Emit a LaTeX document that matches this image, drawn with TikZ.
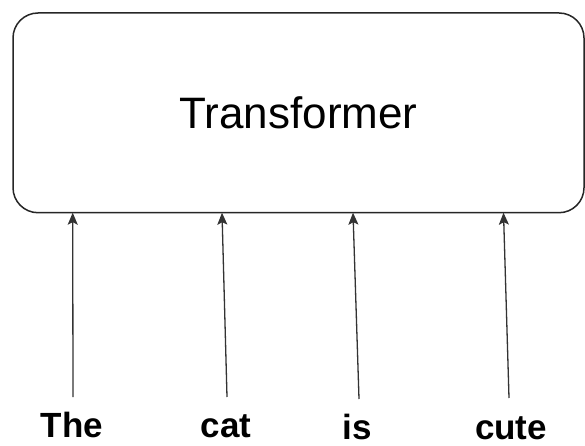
\documentclass[tikz,border=0pt]{standalone}
\usepackage{fontspec}
\setmainfont{Liberation Sans}
\usetikzlibrary{arrows.meta}
\begin{document}
\begin{tikzpicture}[x=1pt,y=1pt,
  boxstyle/.style={draw=black!85, line width=1.5pt, rounded corners=25pt, minimum width=571pt, minimum height=199.7pt, inner sep=0pt, font=\fontsize{44}{50}\selectfont},
  wordstyle/.style={font=\fontsize{35}{40}\selectfont\bfseries, anchor=base, inner sep=0pt},
  arrowstyle/.style={draw=black!80, line width=1.3pt, -{Stealth[length=12pt,width=10pt,inset=2.5pt]}}]
\useasboundingbox (0,0) rectangle (585,445);
\node[boxstyle] (box) at (298.5,332.15) {Transformer};
\node[wordstyle] (the) at (72,8) {The};
\node[wordstyle] (cat) at (226,8) {cat};
\node[wordstyle] (is) at (357.5,6) {is};
\node[wordstyle] (cute) at (511,6) {cute};
\coordinate (t1) at (72.7,232.3);
\coordinate (t2) at (222,232.3);
\coordinate (t3) at (353,232.3);
\coordinate (t4) at (503.5,232.3);
\coordinate (s1) at (73,48);
\coordinate (s2) at (227,48);
\coordinate (s3) at (359,46);
\coordinate (s4) at (509,47);
\draw[arrowstyle] (s1) -- (t1);
\draw[arrowstyle] (s2) -- (t2);
\draw[arrowstyle] (s3) -- (t3);
\draw[arrowstyle] (s4) -- (t4);
\end{tikzpicture}
\end{document}
